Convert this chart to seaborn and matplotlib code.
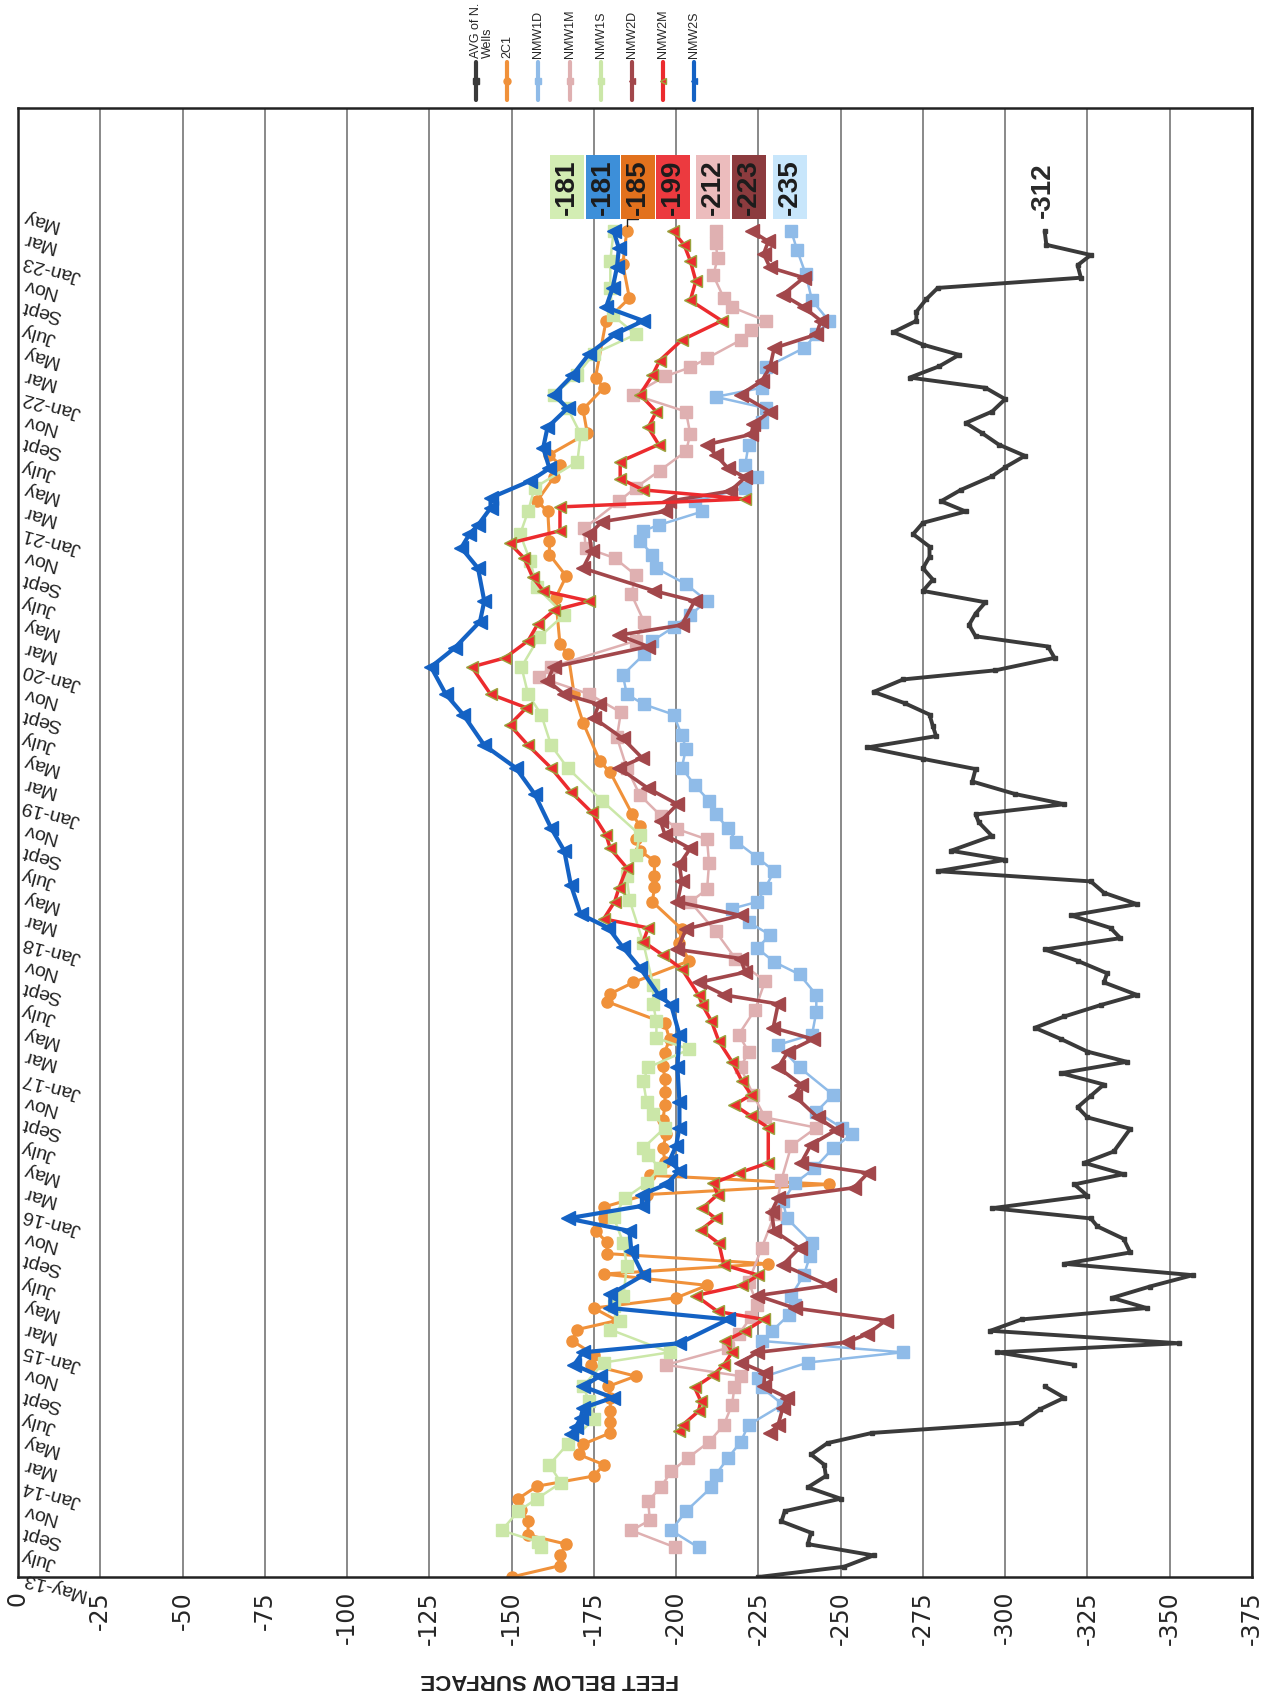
import numpy as np
import pandas as pd
import matplotlib
matplotlib.use("Agg")
import matplotlib.pyplot as plt
import seaborn as sns

# months counted from May-2013; depth in feet (negative = below surface)
# None marks a gap in the record
avg_month = [0, 0.9, 1.9, 2.9, 3.9, 4.9, 5.8, 6.9, 7.9, 8.9, 9.9, 10.8, 11.8, 12.7, 13.6, 14.8, 15.8, 16.8,
             None,
             18.7, 19.8, 20.6, 21.7, 22.7, 23.7, 24.6, 25.6, 26.6, 27.6, 28.6, 29.8, 30.9, 31.6, 32.5, 33.6,
             34.6, 35.5, 36.5, 37.5, 39.5, 40.5, 41.4, 42.4, 43.4, 44.4, 45.4, 46.3, 47.4, 48.4, 49.4, 50.4,
             51.3, 52.4, 53.2, 54.3, 55.3, 56.3, 57.2, 58.3, 59.3, 60.3, 61.3, 62.2, 63.2, 64.0, 65.3, 66.5,
             67.2, 68.1, 69.0, 70.1, 71.2, 72.1, 73.1, 74.1, 75.0, 76.0, 77.0, 78.0, 79.1, 79.9, 81.0, 82.0,
             82.9, 83.9, 84.9, 85.9, 86.9, 87.9, 88.9, 89.9, 90.8, 91.9, 92.9, 93.9, 94.8, 95.8, 97.0, 97.8,
             98.8, 99.8, 100.8, 101.7, 102.7, 103.8, 104.8, 105.7, 106.7, 107.7, 108.6, 109.7, 110.7, 111.5,
             112.6, 113.6, 114.5, 115.6, 116.5, 117.4, 118.6]
avg_depth = [-225, -251, -260, -240, -241, -232, -233, -250, -240, -245.5, -245, -241, -246, -259.6, -304.7,
             -310.7, -318, -312,
             None,
             -321, -297.6, -352.7, -295.5, -305, -343, -332.5, -344, -357, -318, -338, -336, -328, -326, -296,
             -325, -321, -336, -324, -333, -338, -325, -322, -326, -330, -317, -337, -325, -317, -309, -318,
             -329, -340, -330, -331, -322, -312, -335, -332, -320, -340, -330, -326, -279.5, -300, -283.5,
             -296, -292, -291, -318, -303, -290, -291, -275, -258, -279, -278, -277, -269.5, -260, -269, -297,
             -315, -313, -291, -289, -291, -294, -275, -278, -275, -277, -277, -272, -275, -288, -280.5,
             -286.5, -296, -300, -306, -298, -293, -288, -296, -300, -294, -271, -280, -286, -275, -266, -273,
             -273, -276, -279.5, -323, -322, -326, -312.5, -312]

c2c1_month = [0, 1.0, 1.9, 2.9, 3.7, 4.9, 5.9, 6.9, 8.0, 8.9, 9.9, 10.8, 11.7, 12.7, 13.7, 14.6, 15.8, 16.8,
              17.7, 18.7, 19.6, 20.8, 21.8, 22.6, 23.7, 24.6, 25.7, 26.7, 27.6, 28.5, 29.5, 30.5, 31.6, 32.6,
              33.7, 34.6, 35.4, 36.6, 37.8, 39.0, 40.3, 41.6, 42.7, 43.9, 45.0, 46.2, 47.4, 48.8, 50.7, 51.4,
              52.4, 54.3, 55.9, 57.1, 59.5, 60.8, 61.8, 63.1, 64.0, 65.0, 66.2, 67.2, 70.9, 71.9, 75.3, 77.8,
              81.3, 82.2, 86.3, 88.2, 90.1, 91.3, 93.9, 94.8, 96.9, 98.0, 98.9, 100.8, 102.9, 104.8, 105.7,
              110.7, 112.7, 115.7, 118.6]
c2c1_depth = [-150, -164.7, -164.7, -166.6, -155, -155, -153, -152, -157.7, -175, -178, -170.4, -171.7, -180,
              -180, -180, -180, -179.4, -187.7, -174, -175, -168.5, -169.8, -182, -175, -200, -209.4, -178,
              -228, -179, -179, -175.5, -178, -178, -191, -246.4, -192, -196.6, -196, -197, -196, -196.6,
              -196.6, -196.6, -196, -196.5, -198, -196.6, -179, -180, -187, -204, -201, -201.7, -192.8, -193.4,
              -193.4, -193.4, -189, -187.7, -189, -186.7, -180, -176.8, -171.7, -169, -167.2, -164.7, -163.4,
              -166.6, -161.5, -161.5, -161, -157.7, -162.8, -164.7, -161.5, -173, -171.7, -178, -175.5, -178.7,
              -185.8, -183.8, -185]

nmw1d_month = [2.6, 4.1, 5.8, 7.9, 9.0, 10.5, 11.9, 13.4, 15.2, 16.7, 17.5, 18.9, 19.8, 20.8, 21.7, 23.1, 24.0,
               24.8, 26.6, 28.3, 29.4, 31.6, 33.1, 34.7, 36.0, 37.8, 39.0, 39.6, 41.0, 42.5, 44.9, 46.9, 47.8,
               49.8, 51.3, 53.1, 54.2, 55.4, 56.6, 57.7, 58.9, 59.5, 60.7, 62.2, 63.4, 64.8, 66.0, 67.2, 68.4,
               69.8, 71.3, 73.0, 74.2, 76.0, 76.9, 77.8, 79.5, 81.3, 82.5, 83.7, 84.8, 86.0, 87.5, 88.9, 90.1,
               91.3, 92.2, 92.7, 93.9, 94.8, 96.0, 96.9, 98.0, 99.8, 101.8, 103.0, 104.0, 104.8, 106.6, 108.3,
               109.5, 110.7, 112.5, 114.8, 116.9, 118.6]
nmw1d_depth = [-206.8, -198.5, -203, -210.7, -212, -215.8, -219.6, -222, -232.4, -226, -225, -240, -268.8, -226,
               -229.2, -234.3, -236, -235, -238.8, -240.7, -241.3, -233.7, -232.4, -236, -242, -247.7, -253.4,
               -250.3, -242.6, -247.7, -237.5, -231, -241.3, -242.6, -242.6, -237.5, -229.8, -224.7, -228.5,
               -222, -217, -224.7, -227, -229.8, -224.7, -218.3, -215.8, -212, -210, -205.6, -201.7, -203,
               -201.7, -199.2, -190.2, -185, -183.8, -190.2, -192.8, -199.2, -204.3, -209.4, -203, -194, -192.8,
               -189, -190, -194.7, -208, -205.6, -221, -224.7, -221, -222, -226, -227.3, -212, -226, -227.3,
               -238.8, -242.6, -246.4, -241.3, -239.4, -236.8, -235]

nmw1m_month = [2.6, 4.1, 5.0, 6.7, 7.9, 9.3, 10.5, 11.9, 13.4, 15.2, 16.7, 17.7, 18.7, 20.2, 21.4, 22.9, 24.0,
               26.0, 29.0, 32.0, 35.0, 38.0, 39.6, 40.5, 42.5, 44.9, 46.3, 47.8, 50.0, 52.5, 54.5, 56.9, 59.5,
               60.6, 62.9, 65.0, 65.9, 67.1, 68.9, 71.3, 74.0, 76.2, 77.8, 79.3, 80.2, 82.5, 84.2, 86.6, 88.3,
               89.8, 90.7, 92.4, 94.8, 96.0, 97.5, 99.2, 100.7, 102.7, 104.2, 105.8, 106.6, 107.4, 109.0, 109.9,
               110.7, 111.9, 112.7, 114.7, 116.2, 117.6, 118.6]
nmw1m_depth = [-199.8, -186.4, -192, -191.5, -195.3, -198.5, -203.6, -210, -214.5, -217, -217.7, -219.6, -197,
               -215.8, -219, -222.8, -224.7, -222, -226, -230, -232, -235, -242.6, -227, -223.4, -219.6, -222,
               -219, -224, -227, -218, -212, -204.3, -209.4, -210, -209.4, -200.4, -195.3, -189, -185, -182,
               -183.2, -173.6, -158.3, -162, -187.7, -190.2, -186.4, -187.7, -181.3, -172.5, -172, -182.6,
               -187.7, -195, -203, -204.3, -203, -187, -196.6, -204.3, -209.4, -219.6, -222.8, -227.3, -217,
               -214.5, -211.3, -212.6, -212, -212]

nmw1s_month = [2.6, 3.1, 4.1, 5.8, 6.9, 8.3, 9.9, 11.7, 13.9, 15.5, 16.8, 18.9, 19.8, 21.8, 22.6, 23.9, 24.8,
               27.4, 29.4, 31.7, 33.4, 34.7, 36.0, 37.2, 37.8, 39.6, 40.8, 41.9, 43.7, 44.9, 46.5, 47.5, 49.0,
               50.5, 52.2, 55.9, 59.7, 61.8, 63.6, 65.4, 68.4, 71.3, 73.3, 76.0, 77.8, 80.2, 82.8, 84.8, 87.2,
               89.5, 91.9, 93.9, 96.0, 98.3, 100.7, 103.0, 104.2, 105.9, 107.8, 109.5, 111.2, 113.6, 116.0, 118.6]
nmw1s_depth = [-159, -158, -147, -152, -157.7, -165, -161.5, -167, -175, -173.6, -171.7, -178, -198, -180, -183,
               -181, -184, -185, -184, -181, -184.5, -191, -195, -191.5, -190, -196.6, -193, -191, -190, -191.5,
               -204, -194, -194, -193, -193, -190, -185.8, -185, -187.7, -189, -177.5, -167, -162, -159, -155,
               -153, -158.3, -166, -157.7, -155.7, -152.6, -155, -157, -170, -171, -167, -162.8, -169.8, -175,
               -187.7, -180.7, -180, -180, -181]

nmw2d_month = [12.7, 13.4, 14.9, 15.8, 16.8, 18.0, 18.9, 19.8, 20.7, 21.4, 22.6, 23.7, 24.8, 25.7, 27.5, 29.0,
               30.5, 32.2, 33.4, 34.3, 35.6, 36.5, 38.1, 39.4, 40.5, 42.4, 43.4, 44.9, 46.3, 47.4, 48.4, 50.5,
               51.3, 52.4, 53.3, 54.5, 55.3, 57.1, 58.3, 59.5, 61.3, 62.8, 64.2, 65.4, 66.6, 68.1, 69.5, 71.3,
               72.2, 73.9, 75.7, 76.9, 77.8, 79.0, 80.2, 82.0, 83.0, 83.9, 86.0, 86.9, 88.9, 90.4, 91.9, 93.0,
               93.9, 94.8, 95.7, 96.9, 97.7, 98.9, 99.8, 100.7, 101.6, 102.7, 104.2, 105.4, 106.6, 108.3, 109.5,
               110.7, 111.9, 113.0, 114.5, 115.4, 116.6, 117.7, 118.6]
nmw2d_depth = [-228.5, -231, -232.4, -233.7, -226.6, -227, -219.6, -224.7, -252, -258, -263.7, -236, -224.7,
               -246.4, -232.4, -237.5, -229.8, -229, -231, -254, -258.3, -238, -241, -248.7, -243, -236, -238,
               -231, -234, -241.6, -229.5, -231, -214.5, -206.8, -221, -219.6, -200.4, -203, -219.6, -200.4,
               -201.7, -201, -204.3, -196.6, -195.3, -200.4, -191.5, -182.6, -189.6, -183.8, -175, -176.5, -166,
               -160.9, -162.8, -191.5, -182.6, -201.7, -205.6, -193.4, -171.7, -174.3, -173.6, -177.5, -196.6,
               -197.9, -216.4, -221, -215.8, -212, -209.4, -222.8, -223.5, -228.5, -219.6, -226, -228.5, -229.8,
               -242.6, -244, -238.8, -232.4, -238.8, -228.5, -226.6, -228, -223]

nmw2m_month = [12.9, 13.4, 14.6, 15.5, 16.7, 17.8, 18.7, 19.8, 20.8, 21.7, 22.7, 23.4, 24.8, 25.7, 26.6, 27.5,
               29.4, 30.6, 31.6, 32.5, 33.7, 34.7, 35.6, 36.5, 39.6, 40.6, 41.6, 42.5, 43.7, 45.4, 47.2, 49.0,
               50.4, 51.3, 53.6, 54.8, 56.0, 57.2, 58.0, 59.5, 60.7, 62.5, 64.2, 65.4, 67.4, 69.2, 71.3, 73.3,
               75.1, 76.6, 77.8, 80.2, 81.0, 82.5, 84.0, 85.2, 86.0, 86.9, 88.1, 89.8, 91.1, 92.2, 94.3, 95.0,
               95.8, 96.8, 98.3, 99.8, 101.3, 102.7, 104.2, 105.9, 107.2, 109.0, 110.7, 112.5, 114.2, 116.0,
               117.4, 118.6]
nmw2m_depth = [-201, -202, -206.8, -207.5, -205.6, -211.3, -214.5, -217, -215, -221, -226.6, -212.6, -206, -220,
               -225, -214.5, -213, -207.5, -212, -208, -212.6, -211.3, -219, -228, -228, -222.8, -217.7, -222.8,
               -220, -217, -213, -210.7, -208, -206.8, -201.7, -196, -190, -191.5, -178, -181.3, -182.6, -185,
               -180, -178.7, -174.3, -168, -162, -155, -149.4, -154.5, -143.6, -137.9, -148, -155, -158, -163,
               -173.6, -159.6, -156.4, -153.8, -149.4, -164.7, -164.7, -221, -190, -183, -183, -194.7, -191.5,
               -194, -189, -192.8, -195, -201.7, -213.9, -204.3, -206, -204.3, -202.4, -199]

nmw2s_month = [12.6, 13.2, 14.0, 14.9, 15.8, 16.8, 17.7, 18.7, 19.8, 20.6, 22.7, 23.7, 24.9, 26.6, 28.7, 30.5,
               31.6, 32.7, 33.7, 34.6, 35.8, 36.7, 38.0, 39.6, 41.9, 44.9, 47.8, 50.4, 51.3, 53.7, 55.5, 57.2,
               58.4, 61.0, 64.0, 66.0, 69.0, 71.3, 73.3, 76.0, 77.8, 80.2, 81.9, 84.2, 86.0, 88.9, 90.7, 91.9,
               92.7, 94.2, 95.1, 96.6, 97.7, 99.5, 101.3, 103.0, 104.2, 105.9, 107.8, 109.5, 110.7, 111.9, 113.6,
               115.4, 117.1, 118.6]
nmw2s_depth = [-168, -169.5, -171, -171.7, -180.7, -171.7, -176.8, -169, -171.7, -201, -215.8, -180, -180, -190,
               -186.4, -185.8, -167, -189.6, -189.6, -197, -201, -198, -200, -201, -201, -200.4, -201, -198.5,
               -194.7, -189, -183.8, -179.4, -171, -168, -166, -162, -157, -151.3, -141.7, -135.3, -130, -125.5,
               -132.8, -140.4, -141.7, -139.8, -134.7, -137.2, -139.8, -143.6, -143.6, -155.7, -161.5, -159.6,
               -160.9, -167, -162.8, -168.5, -173.6, -181.3, -190, -178.7, -180.7, -182, -182.6, -181]

well_names = ["AVG of N.\nWells", "2C1", "NMW1D", "NMW1M", "NMW1S", "NMW2D", "NMW2M", "NMW2S"]
well_months = [avg_month, c2c1_month, nmw1d_month, nmw1m_month, nmw1s_month, nmw2d_month, nmw2m_month, nmw2s_month]
well_depths = [avg_depth, c2c1_depth, nmw1d_depth, nmw1m_depth, nmw1s_depth, nmw2d_depth, nmw2m_depth, nmw2s_depth]

feet_ticks = list(range(0, -376, -25))

# date labels every 2 months starting May-13
short_names = {0: "Jan", 2: "Mar", 4: "May", 6: "July", 8: "Sept", 10: "Nov"}
date_ticks = list(range(0, 121, 2))
date_labels = []
for m in date_ticks:
    cal = (4 + m) % 12
    yr = 13 + (4 + m) // 12
    if m == 0 or cal == 0:
        date_labels.append(f"{short_names[cal]}-{yr}")
    else:
        date_labels.append(short_names[cal])

# styles
styles = {
    "AVG of N.\nWells": dict(color="#3a3a3a", marker="s", ms=2.5, lw=2.8, mec="#3a3a3a"),
    "2C1": dict(color="#f0913a", marker="o", ms=8, lw=2.2, mec="#f0913a"),
    "NMW1D": dict(color="#8fbbe8", marker="s", ms=9, lw=1.8, mec="#8fbbe8"),
    "NMW1M": dict(color="#dfb0b1", marker="s", ms=9, lw=1.8, mec="#dfb0b1"),
    "NMW1S": dict(color="#cbe7a8", marker="s", ms=9, lw=1.8, mec="#cbe7a8"),
    "NMW2D": dict(color="#a2474b", marker="<", ms=10, lw=2.6, mec="#a2474b"),
    "NMW2M": dict(color="#ec2b2e", marker="<", ms=9, lw=2.5, mec="#9aa23c"),
    "NMW2S": dict(color="#1462c4", marker="<", ms=10, lw=3.0, mec="#1462c4"),
}
label_boxes = {
    "NMW1S": ("#d3edb3", -166.9),
    "NMW2S": ("#3d8fd9", -177.7),
    "2C1": ("#e2711d", -188.5),
    "NMW2M": ("#ec3a3f", -199.0),
    "NMW1M": ("#ecbcbd", -211.1),
    "NMW2D": ("#8c3b3e", -222.2),
    "NMW1D": ("#c8e6fb", -234.6),
}

sns.set_style("white")
plt.rcParams["font.family"] = ["Liberation Sans", "DejaVu Sans"]

W, H = 1269, 1695
fig = plt.figure(figsize=(W / 100, H / 100), dpi=100)
ax = fig.add_axes([18 / W, 1 - 1577 / H, (1252 - 18) / W, (1577 - 107.5) / H])

for name, months, depths in zip(well_names, well_months, well_depths):
    df = pd.DataFrame({"month": months, "depth": depths}, dtype=float)
    df["seg"] = df["depth"].isna().cumsum()
    df = df.dropna()
    st = styles[name]
    sns.lineplot(data=df, x="depth", y="month", units="seg", estimator=None, sort=False,
                 color=st["color"], marker=st["marker"], markersize=st["ms"], linewidth=st["lw"],
                 markeredgecolor=st["mec"], markeredgewidth=1.0, ax=ax, legend=False)

ax.set_xlim(0, -375)
ax.set_ylim(0, 129.5)
ax.set_xlabel("")
ax.set_ylabel("")
ax.set_xticks(feet_ticks)
ax.set_xticklabels([str(v) for v in feet_ticks], rotation=90, fontsize=17, fontfamily="DejaVu Sans")
ax.tick_params(axis="x", direction="out", length=7, width=1.3, pad=3, color="#333333")
ax.set_yticks(range(0, 130))
ax.set_yticklabels([])
ax.tick_params(axis="y", direction="in", length=5, width=1, color="#555555")
ax.grid(axis="x", color="#808080", lw=1.3)
ax.grid(axis="y", visible=False)
ax.set_axisbelow(True)
for sp in ax.spines.values():
    sp.set_color("#222222")
    sp.set_linewidth(1.8)

# date labels sitting inside the plot next to the 0 ft line
for m, lab in zip(date_ticks, date_labels):
    ax.text(-1.3, m, lab, rotation=165, rotation_mode="anchor", ha="right", va="center",
            fontsize=14, color="#222222", clip_on=False)

# last-value labels
for name, months, depths in zip(well_names, well_months, well_depths):
    last = depths[-1]
    if name in label_boxes:
        fc, xpos = label_boxes[name]
        ax.text(xpos, 122.5, f"{last:.0f}", rotation=90, ha="center", va="center", fontsize=20,
                fontweight="bold", color="#1c1c1c",
                bbox=dict(boxstyle="square,pad=0.14", fc=fc, ec="none"), zorder=6)
        if name == "2C1":
            ax.annotate("", xy=(last, months[-1]), xytext=(xpos, 119.7),
                        arrowprops=dict(arrowstyle="-", color="#222222", lw=1,
                                        connectionstyle="angle,angleA=0,angleB=90,rad=0",
                                        shrinkA=0, shrinkB=4))
    else:
        ax.text(-311.6, 122.2, f"{last:.0f}", rotation=90, ha="center", va="center", fontsize=20,
                fontweight="bold", color="#2a2a2a")

# legend strip on top
lax = fig.add_axes([0, 1 - 107 / H, 1, 107 / H])
lax.set_xlim(0, W)
lax.set_ylim(107, 0)
lax.axis("off")
for i, name in enumerate(well_names):
    st = styles[name]
    xi = 476 + 31.2 * i
    lax.plot([xi, xi], [62, 100], color=st["color"], lw=3, solid_capstyle="round")
    lax.plot([xi], [81], marker=st["marker"], ms=5, color=st["color"], mec=st["mec"])
    if "\n" in name:
        lax.text(xi - 6, 58, name, rotation=90, ha="left", va="bottom", fontsize=9,
                 multialignment="left", linespacing=1.0)
    else:
        lax.text(xi, 58, name, rotation=90, ha="center", va="bottom", fontsize=9)

fig.text(550 / W, 1 - 1680 / H, "FEET BELOW SURFACE", rotation=180, ha="center", va="center",
         fontsize=16, fontweight="bold", color="#222222")

fig.savefig("out.png", dpi=100)
plt.close(fig)
